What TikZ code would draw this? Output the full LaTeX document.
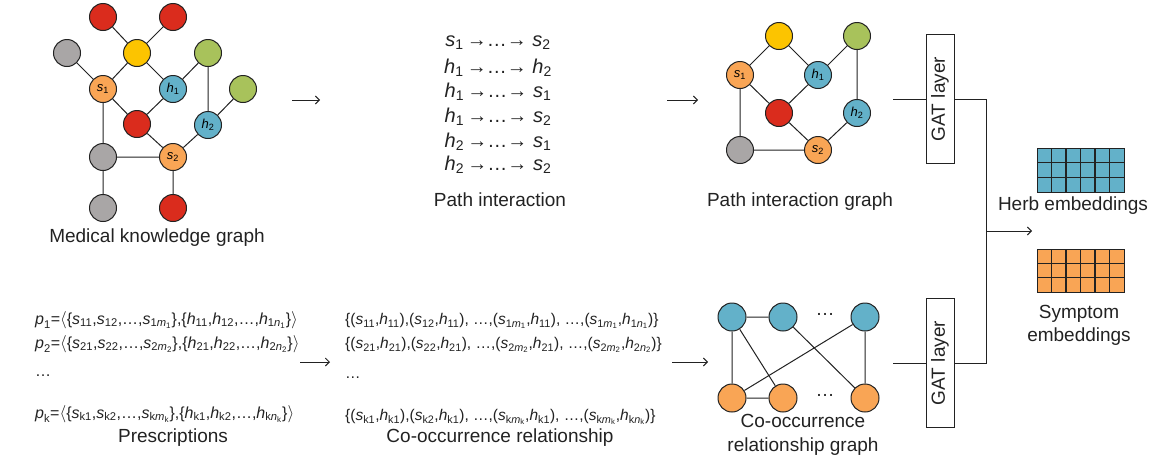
\documentclass[tikz,border=0pt]{standalone}
\usepackage{amsmath}
\usepackage{fontspec}
\setmainfont{Liberation Sans}
\usetikzlibrary{arrows.meta}

\definecolor{cRed}{HTML}{DA2C1D}
\definecolor{cYel}{HTML}{FCC400}
\definecolor{cGrn}{HTML}{A8C25B}
\definecolor{cGry}{HTML}{A9A6A6}
\definecolor{cOra}{HTML}{F9A555}
\definecolor{cBlu}{HTML}{63B1C9}
\definecolor{ink}{HTML}{222222}

% italic variable with upright subscript, and with a nested subscript
\newcommand\va[2]{$\textit{#1}_{\text{#2}}$}
\newcommand\vb[4]{$\textit{#1}_{\text{#2}\textit{#3}_{\text{#4}}}$}
% path row: start -> ... -> end
\newcommand\pr[2]{#1\,→…→\ #2}

\begin{document}
\begin{tikzpicture}[x=1pt,y=-1pt,
  nd/.style={circle,draw=ink,line width=1pt,minimum size=27pt,inner sep=0pt,
    font=\fontsize{13}{13}\selectfont},
  edge/.style={draw=ink,line width=1pt},
  arr/.style={draw=ink,line width=0.9pt,-{Straight Barb[length=4pt,width=8pt]}},
  lbl/.style={font=\fontsize{19}{23}\selectfont,text=ink,align=center,inner sep=0pt},
  prow/.style={font=\fontsize{20}{24}\selectfont,text=ink,inner sep=0pt},
  frow/.style={font=\fontsize{16}{18}\selectfont,text=ink,inner sep=0pt,anchor=west},
  crow/.style={font=\fontsize{15.5}{18}\selectfont,text=ink,inner sep=0pt,anchor=west},
  gat/.style={draw=ink,line width=1pt,rotate=90,minimum width=129pt,minimum height=28pt,
    inner sep=0pt,font=\fontsize{19}{19}\selectfont,text=ink},
  cell/.style={draw=ink,line width=1.4pt}
]
\useasboundingbox (0,0) rectangle (1156,461);

% ---- medical knowledge graph ----
\node[nd,fill=cRed] (kr1) at (103,17) {};
\node[nd,fill=cRed] (kr2) at (173,17) {};
\node[nd,fill=cGry] (kg1) at (67,53) {};
\node[nd,fill=cYel] (ky)  at (137,53) {};
\node[nd,fill=cGrn] (kn1) at (208,53) {};
\node[nd,fill=cOra] (ks1) at (103,89) {\va{s}{1}};
\node[nd,fill=cBlu] (kh1) at (173,89) {\va{h}{1}};
\node[nd,fill=cGrn] (kn2) at (243,89) {};
\node[nd,fill=cRed] (kr3) at (137,124) {};
\node[nd,fill=cBlu] (kh2) at (208,125) {\va{h}{2}};
\node[nd,fill=cGry] (kg2) at (103,157) {};
\node[nd,fill=cOra] (ks2) at (173,157) {\va{s}{2}};
\node[nd,fill=cGry] (kg3) at (103,208) {};
\node[nd,fill=cRed] (kr4) at (173,208) {};
\path[edge] (kr1)--(ky) (kr2)--(ky) (kg1)--(ks1) (ky)--(ks1) (ky)--(kh1)
  (kn1)--(kh1) (kn1)--(kh2) (kn2)--(kh2) (ks1)--(kr3) (kh1)--(kr3)
  (ks1)--(kg2) (kr3)--(ks2) (kh2)--(ks2) (kg2)--(ks2) (kg2)--(kg3) (ks2)--(kr4);
\node[lbl] (kgl) at (157,238) {Medical knowledge graph};

% ---- path interaction ----
\coordinate (a1s) at (292,100);
\coordinate (a1e) at (320,100);
\draw[arr] (a1s) -- (a1e);
\node[prow] (pi1) at (498,43)  {\pr{\va{s}{1}}{\va{s}{2}}};
\node[prow] (pi2) at (498,68)  {\pr{\va{h}{1}}{\va{h}{2}}};
\node[prow] (pi3) at (498,92)  {\pr{\va{h}{1}}{\va{s}{1}}};
\node[prow] (pi4) at (498,117) {\pr{\va{h}{1}}{\va{s}{2}}};
\node[prow] (pi5) at (498,142) {\pr{\va{h}{2}}{\va{s}{1}}};
\node[prow] (pi6) at (498,165) {\pr{\va{h}{2}}{\va{s}{2}}};
\node[lbl] (pil) at (500,200) {Path interaction};

\coordinate (a2s) at (667,100);
\coordinate (a2e) at (698,100);
\draw[arr] (a2s) -- (a2e);

% ---- path interaction graph ----
\node[nd,fill=cYel] (py)  at (779,36) {};
\node[nd,fill=cGrn] (pn)  at (857,36) {};
\node[nd,fill=cOra] (ps1) at (740,75) {\va{s}{1}};
\node[nd,fill=cBlu] (ph1) at (818,75) {\va{h}{1}};
\node[nd,fill=cRed] (pr)  at (779,113) {};
\node[nd,fill=cBlu] (ph2) at (857,113) {\va{h}{2}};
\node[nd,fill=cGry] (pg)  at (740,150) {};
\node[nd,fill=cOra] (ps2) at (818,150) {\va{s}{2}};
\path[edge] (py)--(ps1) (py)--(ph1) (pn)--(ph1) (pn)--(ph2) (ps1)--(pr)
  (ph1)--(pr) (ps1)--(pg) (pr)--(ps2) (ph2)--(ps2) (pg)--(ps2);
\node[lbl] (pgl) at (800,202) {Path interaction graph};

% ---- prescriptions ----
\node[frow] (rx1) at (35,320) {\va{p}{1}=$\langle$\{\va{s}{11},\va{s}{12},…,\vb{s}{1}{m}{1}\},\{\va{h}{11},\va{h}{12},…,\vb{h}{1}{n}{1}\}$\rangle$};
\node[frow] (rx2) at (35,344) {\va{p}{2}=$\langle$\{\va{s}{21},\va{s}{22},…,\vb{s}{2}{m}{2}\},\{\va{h}{21},\va{h}{22},…,\vb{h}{2}{n}{2}\}$\rangle$};
\node[frow] (rx3) at (35,376) {…};
\node[frow] (rx4) at (35,414) {\va{p}{k}=$\langle$\{\va{s}{k1},\va{s}{k2},…,\vb{s}{k}{m}{k}\},\{\va{h}{k1},\va{h}{k2},…,\vb{h}{k}{n}{k}\}$\rangle$};
\node[lbl] (rxl) at (173,438) {Prescriptions};

\coordinate (a3s) at (300,362);
\coordinate (a3e) at (330,362);
\draw[arr] (a3s) -- (a3e);

% ---- co-occurrence relationship ----
\node[crow] (co1) at (345,321) {\{(\va{s}{11},\va{h}{11}),(\va{s}{12},\va{h}{11}), …,(\vb{s}{1}{m}{1},\va{h}{11}), …,(\vb{s}{1}{m}{1},\vb{h}{1}{n}{1})\}};
\node[crow] (co2) at (345,345) {\{(\va{s}{21},\va{h}{21}),(\va{s}{22},\va{h}{21}), …,(\vb{s}{2}{m}{2},\va{h}{21}), …,(\vb{s}{2}{m}{2},\vb{h}{2}{n}{2})\}};
\node[crow] (co3) at (345,378) {…};
\node[crow] (co4) at (345,417) {\{(\va{s}{k1},\va{h}{k1}),(\va{s}{k2},\va{h}{k1}), …,(\vb{s}{k}{m}{k},\va{h}{k1}), …,(\vb{s}{k}{m}{k},\vb{h}{k}{n}{k})\}};
\node[lbl] (col) at (500,438) {Co-occurrence relationship};

\coordinate (a4s) at (672,362);
\coordinate (a4e) at (708,362);
\draw[arr] (a4s) -- (a4e);

% ---- co-occurrence relationship graph ----
\node[nd,minimum size=28pt,fill=cBlu] (cb1) at (732,317) {};
\node[nd,minimum size=28pt,fill=cBlu] (cb2) at (783,317) {};
\node[nd,minimum size=28pt,fill=cBlu] (cb3) at (865,317) {};
\node[nd,minimum size=28pt,fill=cOra] (co1n) at (732,398) {};
\node[nd,minimum size=28pt,fill=cOra] (co2n) at (783,398) {};
\node[nd,minimum size=28pt,fill=cOra] (co3n) at (865,398) {};
\node[lbl] (cd1) at (825,314) {…};
\node[lbl] (cd2) at (825,395) {…};
\path[edge] (cb1)--(cb2) (cb1)--(co1n) (cb1)--(co2n) (cb2)--(co3n)
  (cb3)--(co1n) (cb3)--(co3n) (co1n)--(co2n);
\node[lbl,font=\fontsize{19}{24}\selectfont] (cgl) at (803,435) {Co-occurrence\\relationship graph};

% ---- GAT layers and merge ----
\node[gat] (gat1) at (940,99) {GAT layer};
\node[gat] (gat2) at (940,363) {GAT layer};
\coordinate (g1in) at (893,99);
\coordinate (g2in) at (893,363);
\path[edge] (g1in) -- (gat1);
\path[edge] (g2in) -- (gat2);
\coordinate (j1) at (986,99);
\coordinate (j2) at (986,363);
\coordinate (jm) at (986,231);
\coordinate (emb) at (1032,231);
\path[edge] (gat1) -- (j1) -- (j2) -- (gat2);
\draw[arr] (jm) -- (emb);

% ---- embeddings ----
\node[draw=ink,line width=1.4pt,fill=cBlu,minimum width=87pt,minimum height=44pt,inner sep=0pt,anchor=north west] (herb) at (1037,148) {};
\foreach \i in {1,...,5} \draw[cell] (1037+\i*14.5,148) -- (1037+\i*14.5,192);
\foreach \j in {1,2} \draw[cell] (1037,148+\j*14.67) -- (1124,148+\j*14.67);
\node[lbl] (herbl) at (1073,206) {Herb embeddings};

\node[draw=ink,line width=1.4pt,fill=cOra,minimum width=87pt,minimum height=43pt,inner sep=0pt,anchor=north west] (symp) at (1037,249) {};
\foreach \i in {1,...,5} \draw[cell] (1037+\i*14.5,249) -- (1037+\i*14.5,292);
\foreach \j in {1,2} \draw[cell] (1037,249+\j*14.33) -- (1124,249+\j*14.33);
\node[lbl] (sympl) at (1079,325) {Symptom\\embeddings};
\end{tikzpicture}
\end{document}
